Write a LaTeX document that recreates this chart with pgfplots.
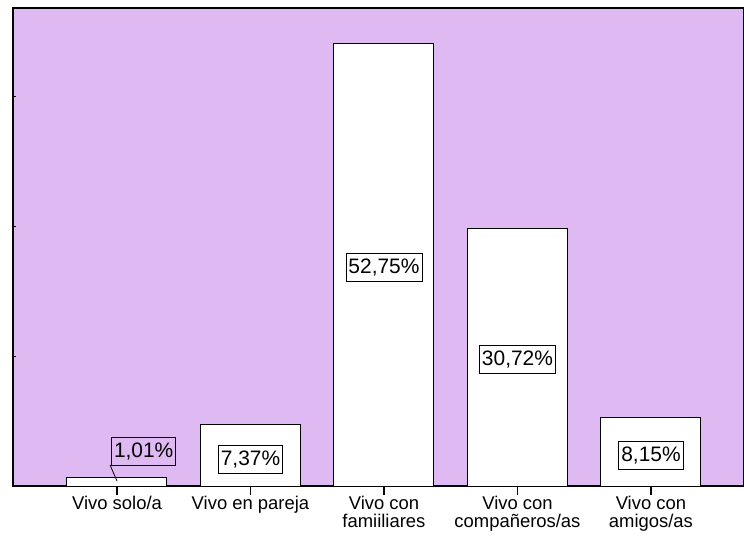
\documentclass[border=0pt]{standalone}
\usepackage{fontspec}
\setmainfont{Liberation Sans}
\usepackage{pgfplots}
\pgfplotsset{compat=1.18}
\definecolor{bgpurple}{RGB}{223,185,242}
\begin{document}
\begin{tikzpicture}
\begin{axis}[
  scale only axis,
  width=731bp, height=478bp,
  xmin=-0.779, xmax=4.697,
  ymin=0, ymax=57,
  axis background/.style={fill=bgpurple},
  axis line style={black, line width=1.2pt},
  xtick={0,1,2,3,4},
  xticklabels={Vivo solo/a, Vivo en pareja, Vivo con\\famiiliares, Vivo con\\compañeros/as, Vivo con\\amigos/as},
  xticklabel style={align=center, font=\fontsize{18.5}{18}\selectfont, yshift=0bp, inner ysep=1bp},
  xtick pos=lower, ytick pos=left,
  xtick align=outside,
  major tick length=9bp,
  x tick style={line width=1.2pt, black},
  ytick=\empty,
  extra y ticks={15.5,31,46.5},
  extra y tick labels={},
  extra y tick style={major tick length=3bp, tick align=inside, tick style={line width=0.6pt, black}},
  clip=false,
]
\addplot[ybar, bar width=100bp, fill=white, draw=black, line width=1pt] coordinates {(0,1.01) (1,7.37) (2,52.75) (3,30.72) (4,8.15)};
\addplot[sharp plot, draw=black, line width=0.8pt, mark=none] coordinates {(-0.052,2.5) (0,0.6)};
\addplot[draw=none, mark=none, point meta=explicit symbolic,
  nodes near coords={\pgfplotspointmeta},
  nodes near coords align={center},
  every node near coord/.style={draw=black, line width=0.8pt, fill=none, inner xsep=2.5bp, minimum height=28bp, anchor=center, font=\fontsize{21}{21}\selectfont}]
  coordinates {(0.2,4.1)[1,01\%] (1,3.2)[7,37\%] (2,26.1)[52,75\%] (3,15.1)[30,72\%] (4,3.6)[8,15\%]};
\end{axis}
\pgfresetboundingbox
\path (-13bp,-51bp) rectangle (731bp,486bp);
\end{tikzpicture}
\end{document}
